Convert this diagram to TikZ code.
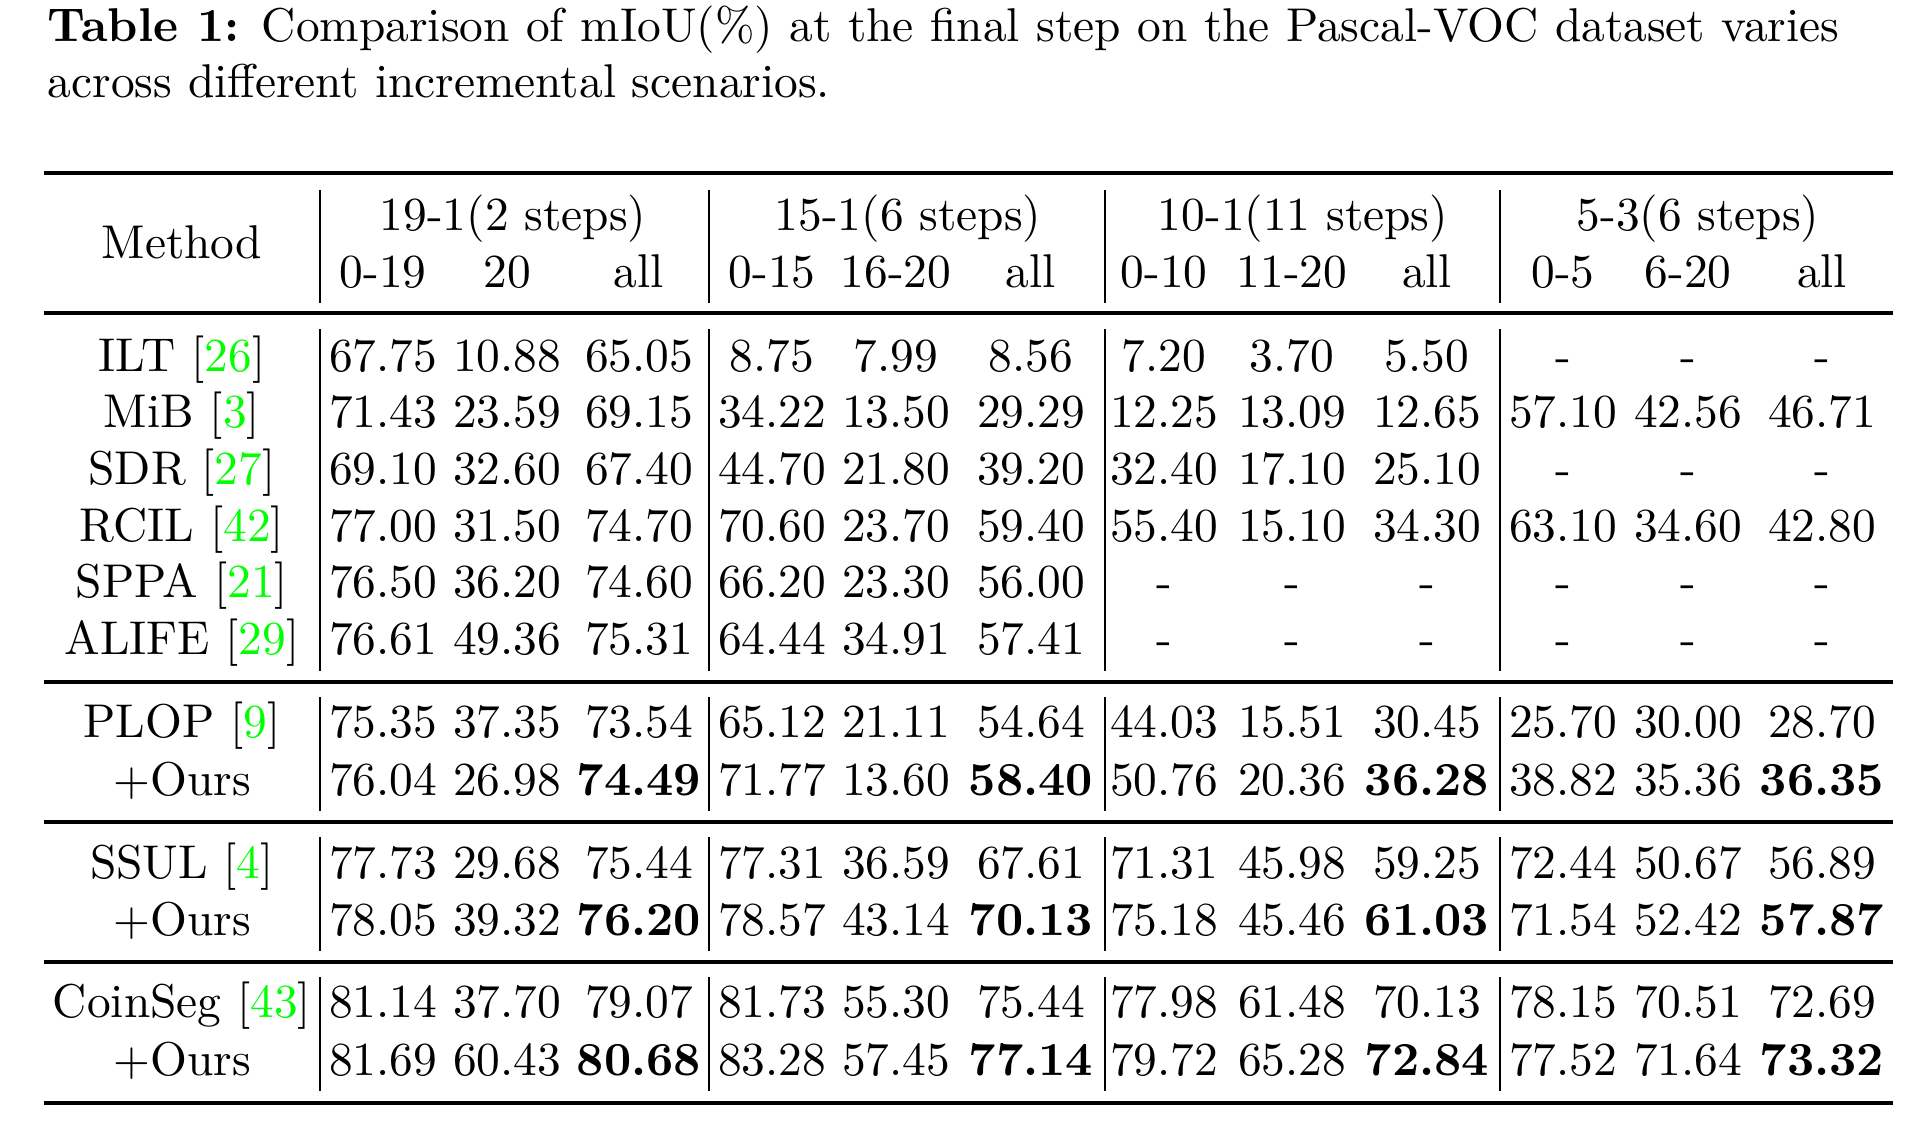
\documentclass[tikz,border=0pt]{standalone}
\usepackage{xcolor}
\newcommand{\refnum}[1]{[\textcolor{green}{#1}]}
\def\colx{{383,507,639,772,896,1031,1164,1292,1427,1563,1688,1822}}
\newcommand{\tabrow}[3]{%
  \foreach \v [count=\c] in {#3} {
    \pgfmathsetmacro{\cx}{\colx[\c-1]}
    \node[cell] (#1-\c) at (\cx,#2) {\v};
  }}
\begin{document}
\begin{tikzpicture}[x=0.211pt,y=-0.211pt,
  cell/.style={anchor=base,inner sep=0pt},
  hrule/.style={line width=0.8pt},
  vrule/.style={line width=0.5pt}]
\useasboundingbox (0,0) rectangle (1916,1122);
% caption
\node[anchor=base west,inner sep=0pt,text width=378pt,align=justify] (cap) at (47,41)
  {\textbf{Table 1:} Comparison of mIoU(\%) at the final step on the Pascal-VOC dataset varies\linebreak across different incremental scenarios.};
% header
\node[cell] (meth) at (182,258) {Method};
\node[cell] (g1) at (513,230) {19-1(2 steps)};
\node[cell] (g2) at (908,230) {15-1(6 steps)};
\node[cell] (g3) at (1303,230) {10-1(11 steps)};
\node[cell] (g4) at (1698,230) {5-3(6 steps)};
\tabrow{sub}{287}{0-19,20,all,0-15,16-20,all,0-10,11-20,all,0-5,6-20,all}
% methods
\node[cell] (ilt) at (182,371) {ILT \refnum{26}};
\node[cell] (mib) at (182,427) {MiB \refnum{3}};
\node[cell] (sdr) at (182,484) {SDR \refnum{27}};
\node[cell] (rcil) at (182,541) {RCIL \refnum{42}};
\node[cell] (sppa) at (182,597) {SPPA \refnum{21}};
\node[cell] (alife) at (182,654) {ALIFE \refnum{29}};
\node[cell] (plop) at (182,737) {PLOP \refnum{9}};
\node[cell] (oursa) at (182,795) {+Ours};
\node[cell] (ssul) at (182,878) {SSUL \refnum{4}};
\node[cell] (oursb) at (182,935) {+Ours};
\node[cell] (coin) at (182,1017) {CoinSeg \refnum{43}};
\node[cell] (oursc) at (182,1075) {+Ours};
% values
\tabrow{ilt}{371}{67.75,10.88,65.05,8.75,7.99,8.56,7.20,3.70,5.50,-,-,-}
\tabrow{mib}{427}{71.43,23.59,69.15,34.22,13.50,29.29,12.25,13.09,12.65,57.10,42.56,46.71}
\tabrow{sdr}{484}{69.10,32.60,67.40,44.70,21.80,39.20,32.40,17.10,25.10,-,-,-}
\tabrow{rcil}{541}{77.00,31.50,74.70,70.60,23.70,59.40,55.40,15.10,34.30,63.10,34.60,42.80}
\tabrow{sppa}{597}{76.50,36.20,74.60,66.20,23.30,56.00,-,-,-,-,-,-}
\tabrow{alife}{654}{76.61,49.36,75.31,64.44,34.91,57.41,-,-,-,-,-,-}
\tabrow{plop}{737}{75.35,37.35,73.54,65.12,21.11,54.64,44.03,15.51,30.45,25.70,30.00,28.70}
\tabrow{oursa}{795}{76.04,26.98,\textbf{74.49},71.77,13.60,\textbf{58.40},50.76,20.36,\textbf{36.28},38.82,35.36,\textbf{36.35}}
\tabrow{ssul}{878}{77.73,29.68,75.44,77.31,36.59,67.61,71.31,45.98,59.25,72.44,50.67,56.89}
\tabrow{oursb}{935}{78.05,39.32,\textbf{76.20},78.57,43.14,\textbf{70.13},75.18,45.46,\textbf{61.03},71.54,52.42,\textbf{57.87}}
\tabrow{coin}{1017}{81.14,37.70,79.07,81.73,55.30,75.44,77.98,61.48,70.13,78.15,70.51,72.69}
\tabrow{oursc}{1075}{81.69,60.43,\textbf{80.68},83.28,57.45,\textbf{77.14},79.72,65.28,\textbf{72.84},77.52,71.64,\textbf{73.32}}
% rules
\foreach \y in {173,313,682,822,962,1103}
  \draw[hrule] (44,\y) -- (1893,\y);
\foreach \a/\b in {190/303,329/671,697/811,837/951,977/1091}
  \foreach \x in {320,709,1105,1500}
    \draw[vrule] (\x,\a) -- (\x,\b);
\end{tikzpicture}
\end{document}
